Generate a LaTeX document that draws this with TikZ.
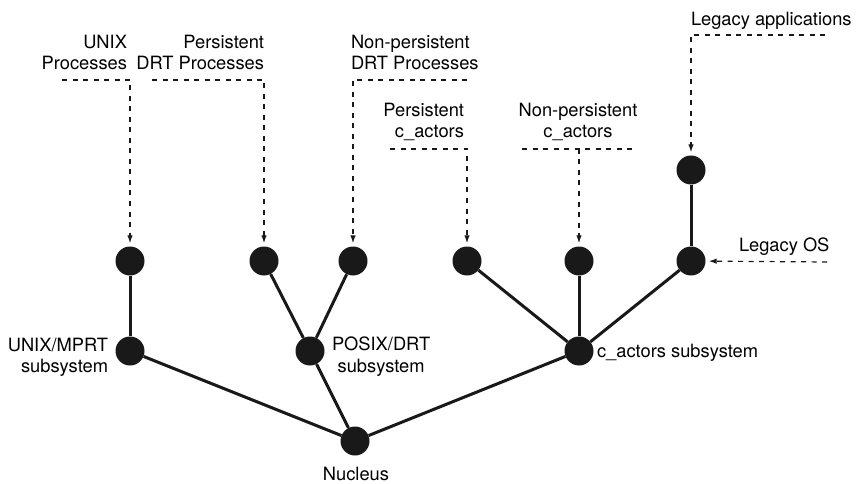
\documentclass[tikz,border=0pt]{standalone}
\usepackage{fontspec}
\setmainfont{TeX Gyre Heros}
\usetikzlibrary{arrows.meta}
\begin{document}
\begin{tikzpicture}[x=1pt,y=-1pt,
  dot/.style={circle,fill=black!90,draw=none,minimum size=29pt,inner sep=0pt},
  tree/.style={line width=3pt,black!90},
  feed/.style={line width=1.2pt,black!90,dash pattern=on 5pt off 5.5pt},
  feedarrow/.style={feed,-{Latex[length=8pt,width=5.5pt]},shorten >=3pt},
  lbl/.style={inner sep=0pt,outer sep=0pt,font=\fontsize{18.3}{21.5}\selectfont}]
\path[use as bounding box,fill=white] (0,0) rectangle (857,484);

% nodes
\node[dot] (p1) at (130,261) {};
\node[dot] (p2) at (264,261) {};
\node[dot] (p3) at (353,261) {};
\node[dot] (p4) at (467,261) {};
\node[dot] (p5) at (579,261) {};
\node[dot] (p6) at (691,261) {};
\node[dot] (la) at (691,170) {};
\node[dot] (s1) at (130,351) {};
\node[dot] (s2) at (310,351) {};
\node[dot] (s3) at (579,351) {};
\node[dot] (nu) at (355,441) {};

% tree edges
\draw[tree] (p1) -- (s1);
\draw[tree] (p2) -- (s2);
\draw[tree] (p3) -- (s2);
\draw[tree] (p4) -- (s3);
\draw[tree] (p5) -- (s3);
\draw[tree] (p6) -- (s3);
\draw[tree] (la) -- (p6);
\draw[tree] (s1) -- (nu);
\draw[tree] (s2) -- (nu);
\draw[tree] (s3) -- (nu);

% labels
\node[lbl,align=right,anchor=north east] (lunix) at (127,35) {UNIX\\Processes};
\node[lbl,align=right,anchor=north east] (lpdrt) at (264,35) {Persistent\\DRT Processes};
\node[lbl,align=left,anchor=north west] (lndrt) at (351,35) {Non-persistent\\DRT Processes};
\node[lbl,align=right,anchor=north east] (lpca) at (464,103) {Persistent\\c\_actors};
\node[lbl,align=center,anchor=north] (lnca) at (578,103) {Non-persistent\\c\_actors};
\node[lbl,anchor=north west] (llapp) at (691,12) {Legacy applications};
\node[lbl,anchor=base west] (llos) at (739,251) {Legacy OS};
\node[lbl,align=right,anchor=north east] (lumprt) at (108,338) {UNIX/MPRT\\subsystem};
\node[lbl,align=center,anchor=north west] (lposix) at (332,337) {POSIX/DRT\\subsystem};
\node[lbl,anchor=base west] (lcas) at (597,357) {c\_actors subsystem};
\node[lbl,anchor=base] (lnuc) at (356,480) {Nucleus};

% feed connectors
\coordinate (u0) at (62,80);   \coordinate (u1) at (130,80);
\coordinate (d0) at (152,80);  \coordinate (d1) at (264,80);
\coordinate (n0) at (467,80);  \coordinate (n1) at (353,80);
\coordinate (c0) at (390,149); \coordinate (c1) at (467,149);
\coordinate (m0) at (522,149); \coordinate (m1) at (632,149); \coordinate (mj) at (579,149);
\coordinate (a0) at (825,35);  \coordinate (a1) at (691,35);
\coordinate (o0) at (827,262);

\draw[feedarrow] (u0) -- (u1) -- (p1);
\draw[feedarrow] (d0) -- (d1) -- (p2);
\draw[feedarrow] (n0) -- (n1) -- (p3);
\draw[feedarrow] (c0) -- (c1) -- (p4);
\draw[feed] (m0) -- (m1);
\draw[feedarrow] (mj) -- (p5);
\draw[feedarrow] (a0) -- (a1) -- (la);
\draw[feedarrow] (o0) -- (p6);
\end{tikzpicture}
\end{document}
